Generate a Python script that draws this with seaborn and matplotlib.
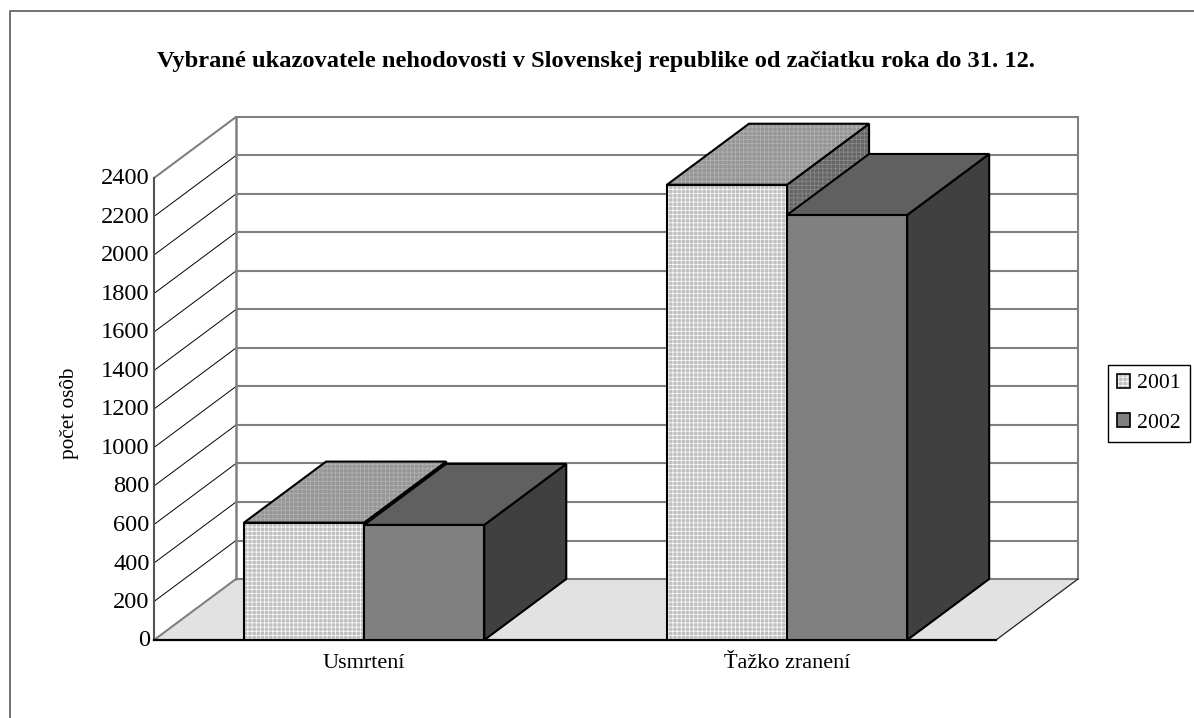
#!/usr/bin/env python3
# -*- coding: utf-8 -*-
import pandas as pd
import seaborn as sns
import matplotlib.pyplot as plt
from matplotlib.colors import to_rgba
from matplotlib.lines import Line2D
from matplotlib.transforms import ScaledTranslation

categories = ['Usmrtení', 'Ťažko zranení']
years = ['2001', '2002']
values_2001 = [610, 2365]
values_2002 = [598, 2208]
y_ticks = list(range(0, 2401, 200))

title = 'Vybrané ukazovatele nehodovosti v Slovenskej republike od začiatku roka do 31. 12.'
y_label = 'počet osôb'

# front / top / side colours and hatch colours for each year
front = {'2001': '#c0c0c0', '2002': '#808080'}
top = {'2001': '#969696', '2002': '#606060'}
side = {'2001': '#666666', '2002': '#404040'}
hatch_front = {'2001': '#ffffff', '2002': None}
hatch_top = {'2001': '#b4b4b4', '2002': None}
hatch_side = {'2001': '#8c8c8c', '2002': None}


def add_hatch(patch, color):
    # white mesh on a black edged patch, the edge colour would otherwise be used
    patch.set_hatch('++++')
    patch._hatch_color = to_rgba(color)


sns.set_theme(style='white')
plt.rcParams['font.family'] = ['Liberation Serif', 'DejaVu Serif']
plt.rcParams['hatch.linewidth'] = 0.5

W, H = 1194, 718
fig = plt.figure(figsize=(W / 100, H / 100), dpi=100)
ax = fig.add_axes([154 / W, (H - 640) / H, 842 / W, 462 / H])

df = pd.DataFrame({'kategoria': categories * 2,
                   'rok': [years[0]] * 2 + [years[1]] * 2,
                   'pocet': values_2001 + values_2002})

sns.barplot(data=df, x='kategoria', y='pocet', hue='rok', hue_order=years, palette=front,
            width=0.568, saturation=1, edgecolor='black', linewidth=1.5, ax=ax, zorder=5)

x0, x1 = -0.497, 1.494
y0, y1 = y_ticks[0], y_ticks[-1]
ax.set_xlim(x0, x1)
ax.set_ylim(y0, y1)

# depth of the fake 3d box, in data units
dx = 82 / 423
dy = 61 / (462 / y1)

wall = '#808080'
ax.fill([x0, x0 + dx, x1 + dx, x1], [y0, y0 + dy, y0 + dy, y0], color='#e2e2e2', lw=0, zorder=1, clip_on=False)
for v in y_ticks[1:-1]:
    ax.plot([x0, x0 + dx], [v, v + dy], color='black', lw=0.7, zorder=2, clip_on=False)
for v in y_ticks:
    ax.plot([x0 + dx, x1 + dx], [v + dy, v + dy], color=wall, lw=1.5, zorder=2, clip_on=False)
ax.plot([x0 + dx, x0 + dx], [y0 + dy, y1 + dy], color=wall, lw=1.8, zorder=2, clip_on=False)
ax.plot([x1 + dx, x1 + dx], [y0 + dy, y1 + dy], color=wall, lw=1.5, zorder=2, clip_on=False)
ax.plot([x0, x0 + dx], [y1, y1 + dy], color=wall, lw=1.5, zorder=2, clip_on=False)
ax.plot([x0, x0 + dx], [y0, y0 + dy], color=wall, lw=1.5, zorder=2, clip_on=False)
ax.plot([x1, x1 + dx], [y0, y0 + dy], color='#222222', lw=0.9, zorder=2, clip_on=False)

# top and side faces, later series sits on top of the earlier one
z = 5
for year, bars in zip(years, ax.containers):
    for bar in bars:
        l, w, h = bar.get_x(), bar.get_width(), bar.get_height()
        r = l + w
        bar.set_zorder(z + 0.1)
        t = ax.fill([l, l + dx, r + dx, r], [h, h + dy, h + dy, h], facecolor=top[year], edgecolor='black',
                    lw=1.5, zorder=z + 0.2, clip_on=False)[0]
        s = ax.fill([r, r + dx, r + dx, r], [h, h + dy, dy, 0], facecolor=side[year], edgecolor='black',
                    lw=1.5, zorder=z, clip_on=False)[0]
        if hatch_front[year]:
            add_hatch(bar, hatch_front[year])
            add_hatch(t, hatch_top[year])
            add_hatch(s, hatch_side[year])
    z += 1

ax.set_yticks(y_ticks)
ax.set_xlabel('')
ax.set_ylabel(y_label, fontsize=15.3, color='black')
ax.yaxis.set_label_coords((79 - 154) / 842, (640 - 413) / 462)
ax.tick_params(axis='y', length=0, labelsize=17.6, pad=3, labelcolor='black')
ax.tick_params(axis='x', length=0, labelsize=16, pad=10, labelcolor='black')
# numbers sit a touch above their gridline
for label in ax.get_yticklabels():
    label.set_transform(label.get_transform() + ScaledTranslation(0, 1.5 / 100, fig.dpi_scale_trans))
ax.patch.set_visible(False)
sns.despine(ax=ax, top=True, right=True)
ax.spines['left'].set_color('#555555')
ax.spines['left'].set_linewidth(1.5)
ax.spines['left'].set_zorder(3)
ax.spines['bottom'].set_color('black')
ax.spines['bottom'].set_linewidth(1.6)
ax.spines['bottom'].set_zorder(3)

handles, labels = ax.get_legend_handles_labels()
leg = ax.legend(handles, labels, loc='upper left', bbox_to_anchor=(1108 / W, 1 - 365 / H), bbox_transform=fig.transFigure,
                fontsize=15.7, labelcolor='black', frameon=True, fancybox=False, edgecolor='black', framealpha=1, borderaxespad=0,
                handlelength=0.58, handleheight=0.58, handletextpad=0.36, labelspacing=0.92, borderpad=0.41)
leg.get_frame().set_linewidth(1.0)
for year, patch in zip(years, leg.get_patches()):
    patch.set_edgecolor('black')
    patch.set_linewidth(1.2)
    if hatch_front[year]:
        add_hatch(patch, hatch_front[year])

fig.text(596 / W, 1 - 62 / H, title, fontsize=17.6, fontweight='bold', ha='center', va='center', color='black')

# outer chart frame, runs off the right and bottom edges
fig.add_artist(Line2D([9.5 / W, 9.5 / W, 1], [0, 1 - 10.5 / H, 1 - 10.5 / H], color='#666666', lw=1.3))

plt.savefig('out.png', dpi=100)
